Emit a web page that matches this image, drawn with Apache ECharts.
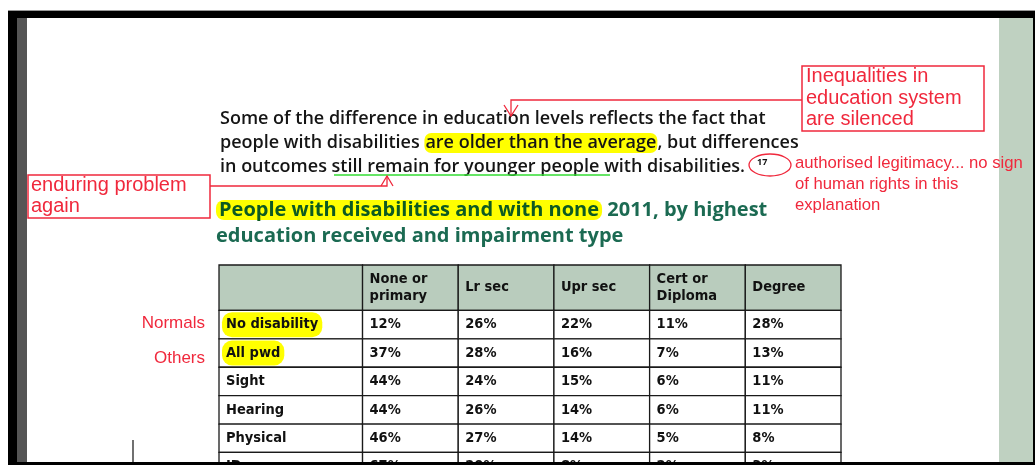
<!DOCTYPE html>
<html>
<head>
<meta charset="utf-8">
<script src="https://cdn.jsdelivr.net/npm/echarts@6/dist/echarts.min.js"></script>
<style>html,body{margin:0;padding:0;background:#fff}#c{width:1035px;height:465px}</style>
</head>
<body>
<div id="c"></div>
<script>
// ---- data ----
const columns = ['None or\nprimary', 'Lr sec', 'Upr sec', 'Cert or\nDiploma', 'Degree'];
const rows = ['No disability', 'All pwd', 'Sight', 'Hearing', 'Physical', 'ID'];
const noneOrPrimary = [12, 37, 44, 44, 46, 67];
const lrSec = [26, 28, 24, 26, 27, 20];
const uprSec = [22, 16, 15, 14, 14, 8];
const certDiploma = [11, 7, 6, 6, 5, 2];
const degree = [28, 13, 11, 11, 8, 3];
const highlightedRows = ['No disability', 'All pwd'];
const rowNotes = { 'No disability': 'Normals', 'All pwd': 'Others' };

// ---- layout ----
const LABEL_W = 1.5;      // label column width in column units
const HEADER_H = 1.6;     // header height in row units
const ROW_PX = 28.4;
const VISIBLE_ROWS = 5.4; // rows that fit before the page edge
const RED = '#f0283c';
const TFONT = '"DejaVu Sans Condensed", "Liberation Sans Narrow", sans-serif';
const DFONT = '"Open Sans", Lato, sans-serif';
const AFONT = '"Liberation Sans", Arial, sans-serif';

const valueCols = [noneOrPrimary, lrSec, uprSec, certDiploma, degree];
const valueData = [];
valueCols.forEach((col, c) => col.forEach((v, r) => valueData.push([c, r, v])));
const headerData = columns.map((name, c) => [c, -1, name]);
headerData.unshift([-1, -1, '']);
const labelData = rows.map((name, r) => [-1, r, name]);

function cellRect(api, c, r) {
  const x0 = c < 0 ? -LABEL_W : c, x1 = c < 0 ? 0 : c + 1;
  const y0 = r < 0 ? -HEADER_H : r, y1 = r < 0 ? 0 : r + 1;
  const p0 = api.coord([x0, y0]), p1 = api.coord([x1, y1]);
  return { x: p0[0], y: Math.min(p0[1], p1[1]), width: p1[0] - p0[0], height: Math.abs(p1[1] - p0[1]) };
}
function makeRender(kind) {
  return function (params, api) {
    const d = kind === 'value' ? valueData[params.dataIndex] : (kind === 'header' ? headerData[params.dataIndex] : labelData[params.dataIndex]);
    const rc = cellRect(api, d[0], d[1]);
    const txt = kind === 'value' ? d[2] + '%' : d[2];
    const hl = kind === 'label' && highlightedRows.indexOf(d[2]) >= 0;
    return {
      type: 'group',
      children: [
        { type: 'rect', shape: rc, style: { fill: kind === 'header' ? '#b9ccbd' : '#fff', stroke: '#1a1a1a', lineWidth: 1.3 } },
        { type: 'text', x: rc.x + (hl ? 3 : 7), y: rc.y + rc.height / 2,
          style: { text: txt, fill: '#111', font: (kind === 'header' ? '600 ' : 'bold ') + '14.5px ' + TFONT, verticalAlign: 'middle', align: 'left', lineHeight: 17,
                   backgroundColor: hl ? '#ffff00' : null, borderRadius: hl ? 10 : 0, padding: hl ? [4, 4] : 0 } }
      ]
    };
  };
}

const chart = echarts.init(document.getElementById('c'), null, { renderer: 'canvas' });
const option = {
  animation: false,
  backgroundColor: '#fff',
  grid: { left: 219, top: 265, width: 622, height: (HEADER_H + VISIBLE_ROWS) * ROW_PX },
  xAxis: { type: 'value', min: -LABEL_W, max: columns.length, show: false },
  yAxis: { type: 'value', min: -HEADER_H, max: VISIBLE_ROWS, inverse: true, show: false },
  series: [
    { type: 'custom', clip: false, renderItem: makeRender('header'), data: headerData, z: 2 },
    { type: 'custom', clip: false, renderItem: makeRender('label'), data: labelData, z: 2 },
    { type: 'custom', clip: false, renderItem: makeRender('value'), data: valueData, z: 2 }
  ],
  graphic: [
    // green page strip (beneath annotations)
    { type: 'rect', z: 1, shape: { x: 999, y: 18, width: 34, height: 445 }, style: { fill: '#bfd1c1' } },
    // paragraph
    { type: 'text', left: 220, top: 107, z: 5,
      style: { text: 'Some of the difference in education levels reflects the fact that\npeople with disabilities {hl|are older than the average}, but differences\nin outcomes still remain for younger people with disabilities.',
               font: '600 18px ' + DFONT, fill: '#151515', lineHeight: 24,
               rich: { hl: { backgroundColor: '#ffff00', borderRadius: 7, padding: [1, 1], font: '600 18px ' + DFONT, fill: '#151515' } } } },
    { type: 'text', left: 757, top: 158, z: 5, style: { text: '17', font: 'bold 9px ' + DFONT, fill: '#111' } },
    // title
    { type: 'text', left: 216, top: 197, z: 5,
      style: { text: '{hl|People with disabilities and with none} 2011, by highest\neducation received and impairment type',
               font: 'bold 20px ' + DFONT, fill: '#1b6a52', lineHeight: 26,
               rich: { hl: { backgroundColor: '#ffff00', borderRadius: 8, padding: [0, 3], font: 'bold 20px ' + DFONT, fill: '#0d5a22' } } } },
    // green underline
    { type: 'line', z: 6, shape: { x1: 334, y1: 175, x2: 610, y2: 175 }, style: { stroke: '#33dd33', lineWidth: 1.5 } },
    // annotation 1
    { type: 'rect', z: 6, shape: { x: 802, y: 66, width: 182, height: 65 }, style: { fill: 'none', stroke: RED, lineWidth: 1.5 } },
    { type: 'text', z: 6, left: 806, top: 66, style: { text: 'Inequalities in\neducation system\nare silenced', font: '20px ' + AFONT, fill: RED, lineHeight: 21.5 } },
    { type: 'polyline', z: 6, shape: { points: [[802, 100], [511, 100], [511, 116]] }, style: { fill: 'none', stroke: RED, lineWidth: 1.3 } },
    { type: 'polyline', z: 6, shape: { points: [[504, 105], [511, 116], [518, 105]] }, style: { fill: 'none', stroke: RED, lineWidth: 1.3 } },
    // annotation 2
    { type: 'rect', z: 6, shape: { x: 28, y: 175, width: 182, height: 43 }, style: { fill: 'none', stroke: RED, lineWidth: 1.5 } },
    { type: 'text', z: 6, left: 31, top: 175, style: { text: 'enduring problem\nagain', font: '20px ' + AFONT, fill: RED, lineHeight: 21 } },
    { type: 'polyline', z: 6, shape: { points: [[210, 186], [387, 186], [387, 176]] }, style: { fill: 'none', stroke: RED, lineWidth: 1.3 } },
    { type: 'polyline', z: 6, shape: { points: [[381, 186], [387, 176], [393, 186]] }, style: { fill: 'none', stroke: RED, lineWidth: 1.3 } },
    // annotation 3
    { type: 'ellipse', z: 6, shape: { cx: 770, cy: 165, rx: 21, ry: 11 }, style: { fill: 'none', stroke: RED, lineWidth: 1.3 } },
    { type: 'text', z: 6, left: 795, top: 153, style: { text: 'authorised legitimacy... no sign\nof human rights in this\nexplanation', font: '16.7px ' + AFONT, fill: RED, lineHeight: 21 } },
    // row notes
    { type: 'text', z: 6, right: 1035 - 205, top: 315, style: { text: rowNotes['No disability'], font: '17px ' + AFONT, fill: RED, align: 'right' } },
    { type: 'text', z: 6, right: 1035 - 205, top: 350, style: { text: rowNotes['All pwd'], font: '17px ' + AFONT, fill: RED, align: 'right' } },
    // stray mark
    { type: 'line', z: 6, shape: { x1: 133, y1: 440, x2: 133, y2: 463 }, style: { stroke: '#111', lineWidth: 1.2 } },
    // page frame
    { type: 'rect', z: 51, shape: { x: 8, y: 10, width: 1027, height: 1 }, style: { fill: '#999' } },
    { type: 'rect', z: 51, shape: { x: 8, y: 11, width: 1027, height: 7 }, style: { fill: '#000' } },
    { type: 'rect', z: 51, shape: { x: 8, y: 11, width: 9, height: 454 }, style: { fill: '#000' } },
    { type: 'rect', z: 51, shape: { x: 17, y: 18, width: 10, height: 447 }, style: { fill: '#555' } },
    { type: 'rect', z: 51, shape: { x: 1033, y: 11, width: 2, height: 454 }, style: { fill: '#000' } },
    { type: 'rect', z: 51, shape: { x: 8, y: 462, width: 1027, height: 3 }, style: { fill: '#000' } }
  ]
};
chart.setOption(option);
</script>
</body>
</html>
